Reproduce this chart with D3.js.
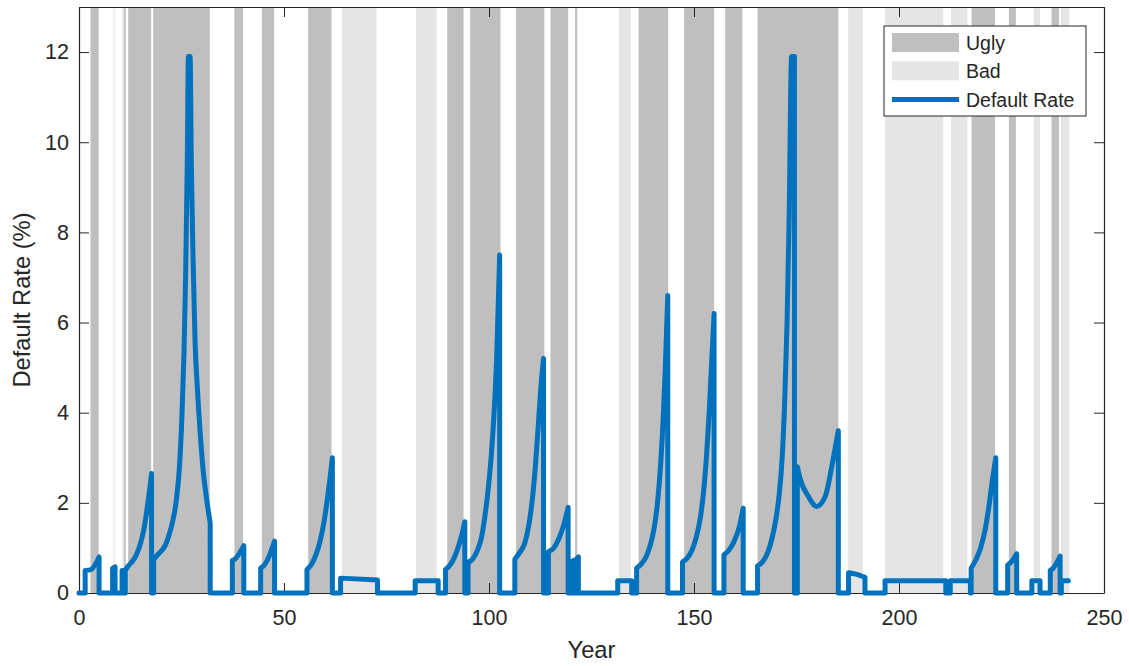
<!DOCTYPE html>
<html>
<head>
<meta charset="utf-8">
<script src="https://cdn.jsdelivr.net/npm/d3@7"></script>
<style>
  body { margin: 0; background: #fff; }
  text { font-family: "Liberation Sans", Arial, Helvetica, sans-serif; fill: #262626; }
</style>
</head>
<body>
<div id="chart"></div>
<script>
// regime bands [start, end] in years
var uglyBands = [
  [2.8, 4.8], [10.9, 11.4], [12, 17.6], [18.1, 31.9], [37.9, 40], [44.6, 47.6],
  [55.9, 61.6], [89.8, 93.8], [95.4, 102.8], [106.6, 113.5], [115, 119.3],
  [121, 121.5], [136.5, 143.7], [147.6, 154.9], [157.6, 161.8], [165.5, 185.2],
  [217.7, 223.4], [226.8, 228.5], [237.2, 239]
];
var badBands = [
  [8.4, 8.7], [10.6, 10.9], [64.1, 72.6], [82.2, 87.2], [131.7, 134.6],
  [187.6, 191.2], [196.6, 210.8], [212.7, 216.7], [232.9, 234.4], [239.5, 241.5]
];

// default rate (year, %)
var defaultRate = [
  [0,0],[1.5,0],[1.5,0.5],[2.9,0.52],[4.9,0.8],[4.9,0],
  [8.2,0],[8.2,0.55],[8.8,0.58],[8.8,0],
  [10.5,0],[10.5,0.5],[10.9,0.5],[10.9,0],[11.3,0],[11.3,0.5],[12,0.6],[13,0.7],[14,0.85],[15,1.1],[15.8,1.4],[16.5,1.8],[17.1,2.2],[17.7,2.65],[17.7,0],
  [18.2,0],[18.2,0.75],[19.5,0.88],[21,1.05],[22,1.3],[23,1.65],[23.8,2.1],[24.5,2.8],[25.1,3.9],[25.6,5.3],[26,7],[26.4,9.5],[26.7,11.9],[27.1,11.9],[27.4,9.5],[27.8,7.5],[28.3,5.6],[28.9,4.5],[29.6,3.5],[30.3,2.7],[31.1,2.1],[32,1.55],[32,0],
  [37.4,0],[37.4,0.72],[38,0.75],[40.2,1.05],[40.2,0],
  [44.3,0],[44.3,0.55],[45.2,0.62],[46.3,0.8],[47.7,1.15],[47.7,0],
  [55.6,0],[55.6,0.52],[56.8,0.65],[57.8,0.85],[58.8,1.15],[59.8,1.6],[60.6,2.1],[61.3,2.6],[61.8,3.0],[61.8,0],
  [63.8,0],[63.8,0.33],[72.8,0.29],[72.8,0],
  [82,0],[82,0.27],[87.6,0.27],[87.6,0],
  [89.4,0],[89.4,0.52],[90.5,0.62],[91.6,0.8],[92.6,1.05],[93.4,1.3],[94.1,1.58],[94.1,0],
  [94.9,0],[94.9,0.68],[96,0.75],[97.2,0.95],[98.2,1.25],[99,1.7],[99.8,2.3],[100.6,3.1],[101.3,4.1],[101.9,5.3],[102.6,7.5],[102.6,0],
  [106.3,0],[106.3,0.75],[107.5,0.9],[108.7,1.1],[109.7,1.5],[110.6,2.1],[111.3,2.8],[112,3.7],[112.6,4.5],[113.3,5.2],[113.3,0],
  [114.5,0],[114.5,0.92],[115.8,1.0],[117,1.2],[118.2,1.5],[119.3,1.9],[119.3,0],
  [120.2,0],[120.2,0.7],[120.6,0.72],[120.6,0],[121.3,0],[121.3,0.75],[121.8,0.8],[121.8,0],
  [131.4,0],[131.4,0.27],[134.8,0.27],[134.8,0],
  [136,0],[136,0.55],[137.2,0.65],[138.3,0.8],[139.3,1.05],[140.3,1.45],[141.1,2],[141.9,2.9],[142.5,3.9],[143,5],[143.6,6.6],[143.6,0],
  [147.2,0],[147.2,0.69],[148.4,0.78],[149.5,0.95],[150.6,1.25],[151.6,1.7],[152.4,2.3],[153.1,3.1],[153.7,4],[154.3,5.1],[154.9,6.2],[154.9,0],
  [157.3,0],[157.3,0.85],[158.5,0.95],[159.8,1.15],[161,1.45],[162,1.88],[162,0],
  [165.5,0],[165.5,0.6],[166.8,0.7],[168,0.9],[169,1.2],[170,1.65],[170.8,2.2],[171.5,3],[172.1,4.2],[172.7,6],[173.2,8.3],[173.8,11.9],[174.5,11.9],[174.5,0],
  [175.2,0],[175.2,2.8],[176,2.5],[177.9,2.14],[179.9,1.92],[182,2.14],[183.6,2.8],[184.4,3.2],[185.2,3.6],[185.2,0],
  [187.7,0],[187.7,0.45],[189.5,0.42],[191.7,0.35],[191.7,0],
  [196.6,0],[196.6,0.27],[211.4,0.27],[211.4,0],
  [212.5,0],[212.5,0.27],[217.4,0.27],[217.4,0],
  [217.6,0],[217.6,0.55],[218.8,0.75],[219.9,1.0],[221,1.4],[221.9,1.9],[222.7,2.45],[223.6,3.0],[223.6,0],
  [226.5,0],[226.5,0.62],[227.5,0.7],[228.7,0.87],[228.7,0],
  [232.4,0],[232.4,0.27],[234.4,0.27],[234.4,0],
  [236.9,0],[236.9,0.5],[237.6,0.55],[239.3,0.82],[239.3,0],[239.6,0],[239.6,0.27],[241.3,0.27]
];

var xTicks = [0, 50, 100, 150, 200, 250];
var yTicks = [0, 2, 4, 6, 8, 10, 12];

var W = 1129, H = 666;
var margin = {left: 79, top: 7, right: 25, bottom: 73};
var iw = W - margin.left - margin.right, ih = H - margin.top - margin.bottom;

var svg = d3.select('#chart').append('svg').attr('width', W).attr('height', H);
var g = svg.append('g').attr('transform', 'translate(' + margin.left + ',' + margin.top + ')');

var x = d3.scaleLinear().domain([0, 250]).range([0, iw]);
var y = d3.scaleLinear().domain([0, 13]).range([ih, 0]);

// bands
g.selectAll('rect.ugly').data(uglyBands).enter().append('rect')
  .attr('class', 'ugly')
  .attr('x', function(d){ return x(d[0]); })
  .attr('width', function(d){ return x(d[1]) - x(d[0]); })
  .attr('y', 0).attr('height', ih)
  .style('fill', '#bfbfbf');

g.selectAll('rect.bad').data(badBands).enter().append('rect')
  .attr('class', 'bad')
  .attr('x', function(d){ return x(d[0]); })
  .attr('width', function(d){ return x(d[1]) - x(d[0]); })
  .attr('y', 0).attr('height', ih)
  .style('fill', '#e5e5e5');

// axes (MATLAB style box, ticks inside)
var axisColor = '#262626';
var xb = g.append('g').attr('transform', 'translate(0,' + ih + ')')
  .call(d3.axisBottom(x).tickValues(xTicks).tickSizeInner(-10).tickSizeOuter(0).tickPadding(20));
var xt = g.append('g')
  .call(d3.axisTop(x).tickValues(xTicks).tickSizeInner(-10).tickSizeOuter(0).tickFormat(''));
var yl = g.append('g')
  .call(d3.axisLeft(y).tickValues(yTicks).tickSizeInner(-10).tickSizeOuter(0).tickPadding(20));
var yr = g.append('g').attr('transform', 'translate(' + iw + ',0)')
  .call(d3.axisRight(y).tickValues(yTicks).tickSizeInner(-10).tickSizeOuter(0).tickFormat(''));

[xb, xt, yl, yr].forEach(function(a){
  a.select('.domain').style('stroke', axisColor).style('stroke-width', 1.2);
  a.selectAll('.tick line').style('stroke', axisColor).style('stroke-width', 1);
  a.selectAll('.tick text').style('font-size', '21.5px').style('fill', axisColor)
    .attr('font-family', null);
});
xb.selectAll('.tick text').attr('dy', '0.71em').attr('y', 17);
yl.selectAll('.tick text').attr('x', -10);

// default rate line: split at the vertical jumps, smooth each run, then join
var runs = [];
var cur = [defaultRate[0]];
for (var i = 1; i < defaultRate.length; i++) {
  if (defaultRate[i][0] === defaultRate[i-1][0]) {
    runs.push(cur);
    cur = [defaultRate[i]];
  } else {
    cur.push(defaultRate[i]);
  }
}
runs.push(cur);

var line = d3.line()
  .x(function(d){ return x(d[0]); })
  .y(function(d){ return y(d[1]); })
  .curve(d3.curveMonotoneX);

var pathD = runs.map(function(r, k){
  var d = line(r);
  return k === 0 ? d : 'L' + d.slice(1);
}).join('');

g.append('path')
  .attr('d', pathD)
  .style('fill', 'none')
  .style('stroke', '#0072bd')
  .style('stroke-width', 5)
  .style('stroke-linejoin', 'round')
  .style('stroke-linecap', 'round');

// axis labels
svg.append('text')
  .attr('x', margin.left + iw / 2).attr('y', 658)
  .attr('text-anchor', 'middle')
  .style('font-size', '23.7px')
  .text('Year');

svg.append('text')
  .attr('transform', 'translate(30,' + (margin.top + ih / 2) + ') rotate(-90)')
  .attr('text-anchor', 'middle')
  .style('font-size', '23.7px')
  .text('Default Rate (%)');

// legend
var legendItems = [
  ['Ugly', 'rect', '#bfbfbf'],
  ['Bad', 'rect', '#e5e5e5'],
  ['Default Rate', 'line', '#0072bd']
];

var legend = svg.append('g').attr('transform', 'translate(884,26)');
legend.append('rect')
  .attr('width', 202).attr('height', 90)
  .style('fill', '#fff')
  .style('stroke', axisColor).style('stroke-width', 1);

var item = legend.selectAll('g.item').data(legendItems).enter().append('g')
  .attr('class', 'item')
  .attr('transform', function(d, i){ return 'translate(0,' + (17 + i * 28.3) + ')'; });

item.filter(function(d){ return d[1] === 'rect'; }).append('rect')
  .attr('x', 8).attr('y', -10).attr('width', 67).attr('height', 19)
  .style('fill', function(d){ return d[2]; });

item.filter(function(d){ return d[1] === 'line'; }).append('line')
  .attr('x1', 8).attr('x2', 75).attr('y1', 0).attr('y2', 0)
  .style('stroke', function(d){ return d[2]; })
  .style('stroke-width', 5);

item.append('text')
  .attr('x', 82).attr('y', 7)
  .style('font-size', '19.5px')
  .text(function(d){ return d[0]; });
</script>
</body>
</html>
